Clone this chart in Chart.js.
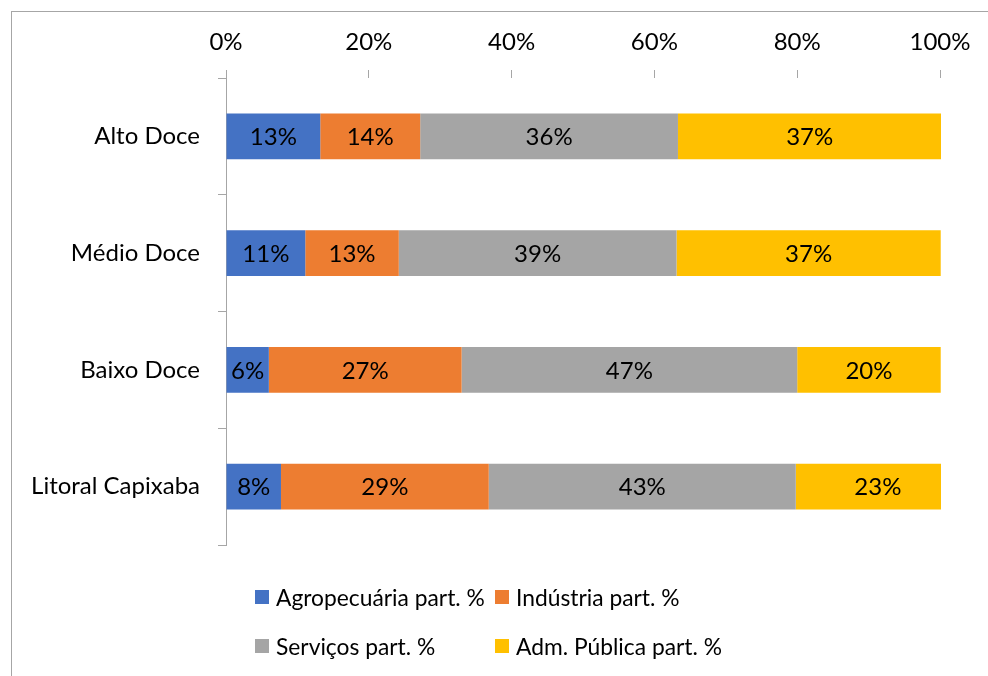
<!DOCTYPE html>
<html>
<head>
<meta charset="utf-8">
<script src="https://cdn.jsdelivr.net/npm/chart.js@4.4.1/dist/chart.umd.min.js"></script>
<style>
  html, body { margin: 0; padding: 0; background: #fff; }
  #wrap { position: relative; width: 988px; height: 676px; overflow: hidden; }
  #c { position: absolute; left: 0; top: 0; }
  #legend { position: absolute; left: 0; top: 0; width: 988px; height: 676px; pointer-events: none;
            font-family: Lato, sans-serif; font-size: 22.8px; color: #000; }
  .li { position: absolute; display: flex; align-items: center; height: 24px; white-space: nowrap; }
  .li .box { width: 14px; height: 14px; margin-right: 7px; flex: none; }
</style>
</head>
<body>
<div id="wrap">
  <canvas id="c" width="988" height="676"></canvas>
  <div id="legend"></div>
</div>
<script>
const categories = ['Alto Doce', 'Médio Doce', 'Baixo Doce', 'Litoral Capixaba'];
const seriesNames = ['Agropecuária part. %', 'Indústria part. %', 'Serviços part. %', 'Adm. Pública part. %'];
const agropecuaria = [13.2, 11.1, 6.0, 7.7];
const industria = [14.0, 13.1, 27.0, 29.1];
const servicos = [36.1, 38.9, 47.0, 43.0];
const admPublica = [36.9, 37.0, 20.1, 23.0];
const xTicks = [0, 20, 40, 60, 80, 100];
const seriesColors = ['#4472C4', '#ED7D31', '#A5A5A5', '#FFC000'];

const FONT = 'Lato, sans-serif';
const FSIZE = 24;
const AXIS_GRAY = '#A6A6A6';

const seriesValues = [agropecuaria, industria, servicos, admPublica];

const frame = {
  id: 'frame',
  beforeDraw(chart) {
    const ctx = chart.ctx;
    ctx.save();
    ctx.strokeStyle = '#A6A6A6';
    ctx.lineWidth = 1;
    ctx.strokeRect(11.5, 11.5, 3000, 3000);
    ctx.restore();
  }
};

const barLabels = {
  id: 'barLabels',
  afterDatasetsDraw(chart) {
    const ctx = chart.ctx;
    ctx.save();
    ctx.font = FSIZE + 'px ' + FONT;
    ctx.fillStyle = '#000';
    ctx.textAlign = 'center';
    ctx.textBaseline = 'middle';
    chart.data.datasets.forEach((ds, di) => {
      const meta = chart.getDatasetMeta(di);
      meta.data.forEach((el, i) => {
        const v = ds.data[i];
        const cx = (el.x + el.base) / 2;
        ctx.fillText(Math.round(v) + '%', cx, el.y + 1);
      });
    });
    ctx.restore();
  }
};

const chart = new Chart(document.getElementById('c'), {
  type: 'bar',
  data: {
    labels: categories,
    datasets: seriesValues.map((vals, i) => ({
      label: seriesNames[i],
      data: vals,
      backgroundColor: seriesColors[i],
      borderWidth: 0,
      barPercentage: 0.394,
      categoryPercentage: 1,
      clip: { left: 0, right: 1, top: 0, bottom: 0 }
    }))
  },
  options: {
    indexAxis: 'y',
    responsive: false,
    animation: false,
    devicePixelRatio: 1,
    layout: { padding: { left: 0, top: 0, right: 48, bottom: 131 } },
    plugins: {
      legend: { display: false },
      tooltip: { enabled: false }
    },
    scales: {
      x: {
        position: 'top',
        stacked: true,
        min: 0,
        max: 100,
        afterBuildTicks(scale) { scale.ticks = xTicks.map(v => ({ value: v })); },
        afterFit(scale) { scale.height = 78; },
        ticks: {
          callback: v => v + '%',
          font: { family: FONT, size: FSIZE },
          color: '#000',
          padding: 13,
          maxRotation: 0
        },
        grid: { drawOnChartArea: false, drawTicks: true, tickLength: 8, color: AXIS_GRAY },
        border: { display: false }
      },
      y: {
        stacked: true,
        afterFit(scale) { scale.width = 226; },
        ticks: {
          font: { family: FONT, size: FSIZE },
          color: '#000',
          padding: 18
        },
        grid: { drawOnChartArea: false, drawTicks: true, tickLength: 8, color: AXIS_GRAY, offset: true },
        border: { display: true, color: AXIS_GRAY }
      }
    }
  },
  plugins: [frame, barLabels]
});

// HTML legend built from the chart's own legend items
const legendEl = document.getElementById('legend');
const items = Chart.defaults.plugins.legend.labels.generateLabels(chart);
const colX = [255, 495];
const rowY = [585, 634];
items.forEach((it, i) => {
  const d = document.createElement('div');
  d.className = 'li';
  d.style.left = colX[i % 2] + 'px';
  d.style.top = rowY[Math.floor(i / 2)] + 'px';
  const b = document.createElement('span');
  b.className = 'box';
  b.style.background = it.fillStyle;
  const t = document.createElement('span');
  t.textContent = it.text;
  d.appendChild(b); d.appendChild(t);
  legendEl.appendChild(d);
});
</script>
</body>
</html>
